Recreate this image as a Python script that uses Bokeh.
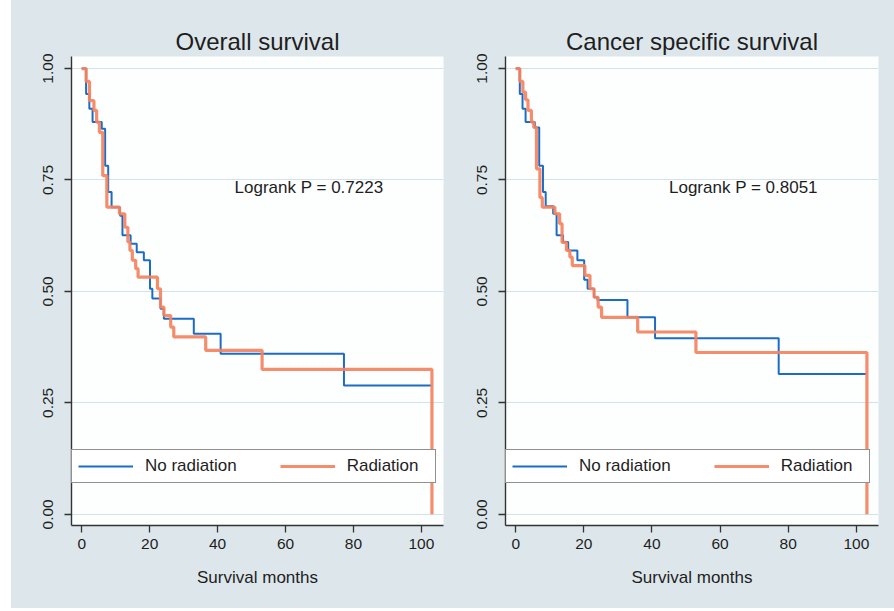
from bokeh.plotting import figure
from bokeh.layouts import row
from bokeh.models import Legend, LegendItem, Label, FixedTicker, Range1d, Spacer
from bokeh.embed import file_html
from bokeh.resources import INLINE

# ---------------- data ----------------
panel_titles = ["Overall survival", "Cancer specific survival"]
logrank_texts = ["Logrank P = 0.7223", "Logrank P = 0.8051"]
series_names = ["No radiation", "Radiation"]

# Overall survival – No radiation
os_norad_t = [0, 1.3, 2.25, 3.2, 5.9, 6.9, 7.8, 8.8, 11.3, 12.0, 14.4, 16.2, 18.3,
              20.1, 20.8, 23.2, 24.2, 33.0, 40.9, 77.2, 103.0]
os_norad_s = [1.0, 0.943, 0.910, 0.880, 0.865, 0.782, 0.723, 0.689, 0.670, 0.626, 0.607,
              0.588, 0.570, 0.506, 0.484, 0.461, 0.439, 0.405, 0.360, 0.289, 0.289]
# Overall survival – Radiation
os_rad_t = [0, 1.3, 2.3, 3.6, 4.4, 5.2, 6.2, 7.4, 11.1, 12.7, 13.6, 14.2, 14.9, 15.9,
            16.6, 22.3, 23.2, 24.2, 26.2, 27.1, 36.5, 53.1, 103.1]
os_rad_s = [1.0, 0.971, 0.928, 0.906, 0.880, 0.857, 0.760, 0.689, 0.674, 0.644, 0.611,
            0.592, 0.570, 0.551, 0.532, 0.506, 0.465, 0.446, 0.420, 0.398, 0.368, 0.325, 0.0]
# Cancer specific survival – No radiation
cs_norad_t = [0, 1.2, 2.0, 2.9, 5.6, 6.9, 8.0, 8.8, 11.0, 12.0, 13.9, 15.4, 18.1, 20.1,
              21.1, 23.0, 24.0, 32.8, 40.9, 77.2, 102.9]
cs_norad_s = [1.0, 0.943, 0.910, 0.880, 0.868, 0.782, 0.723, 0.691, 0.674, 0.626, 0.611,
              0.592, 0.570, 0.526, 0.506, 0.487, 0.481, 0.442, 0.395, 0.315, 0.315]
# Cancer specific survival – Radiation
cs_rad_t = [0, 1.2, 2.1, 2.9, 3.6, 4.6, 5.3, 6.1, 7.1, 7.8, 11.5, 12.9, 13.6, 14.9, 15.9,
            16.6, 20.3, 21.8, 23.0, 24.2, 25.2, 35.8, 52.9, 103.1]
cs_rad_s = [1.0, 0.971, 0.947, 0.930, 0.906, 0.880, 0.868, 0.775, 0.711, 0.689, 0.674,
            0.652, 0.610, 0.592, 0.577, 0.558, 0.536, 0.506, 0.487, 0.465, 0.442, 0.409,
            0.363, 0.0]

x_ticks = [0, 20, 40, 60, 80, 100]
y_ticks = [0.0, 0.25, 0.5, 0.75, 1.0]
y_tick_labels = ["0.00", "0.25", "0.50", "0.75", "1.00"]
x_label = "Survival months"
logrank_pos = (45.0, 0.733)

# ---------------- style ----------------
FONT = "Liberation Sans"
BG = "#dde7eb"
BLUE = "#1c6cc6"
ORANGE = "#f4835f"
DARK = "#1e1e1e"
H = 608


def make_panel(title, t1, s1, t2, s2, lr_text, width, left, right):
    p = figure(width=width, height=H, output_backend="svg", toolbar_location=None,
               x_range=Range1d(-3.0, 106.5), y_range=Range1d(-0.025, 1.027),
               min_border_left=left, min_border_right=right,
               min_border_top=56, min_border_bottom=83)
    p.title.text = title
    p.title.align = "center"
    p.title.text_font = FONT
    p.title.text_font_size = "24px"
    p.title.text_font_style = "normal"
    p.title.text_color = DARK
    p.title.standoff = 4

    p.background_fill_color = "#fdfefe"
    p.border_fill_color = BG
    p.outline_line_color = None

    p.xgrid.visible = False
    p.ygrid.grid_line_color = "#d3e2e9"
    p.ygrid.grid_line_width = 1

    for ax in (p.xaxis[0], p.yaxis[0]):
        ax.axis_line_color = "#333333"
        ax.axis_line_width = 1.4
        ax.major_tick_line_color = "#333333"
        ax.major_tick_line_width = 1.3
        ax.major_tick_out = 7
        ax.major_tick_in = 0
        ax.minor_tick_line_color = None
        ax.major_label_text_font = FONT
        ax.major_label_text_font_size = "15.5px"
        ax.major_label_text_color = DARK

    p.xaxis.ticker = FixedTicker(ticks=x_ticks)
    p.xaxis.major_label_standoff = 6
    p.xaxis.axis_label = x_label
    p.xaxis.axis_label_text_font = FONT
    p.xaxis.axis_label_text_font_size = "17px"
    p.xaxis.axis_label_text_font_style = "normal"
    p.xaxis.axis_label_text_color = DARK
    p.xaxis.axis_label_standoff = 16

    p.yaxis.ticker = FixedTicker(ticks=y_ticks)
    p.yaxis.major_label_overrides = {v: lab for v, lab in zip(y_ticks, y_tick_labels)}
    p.yaxis.major_label_orientation = "vertical"
    p.yaxis.major_label_standoff = 11

    r1 = p.step(x=t1, y=s1, mode="after", line_color=BLUE, line_width=2)
    r2 = p.step(x=t2, y=s2, mode="after", line_color=ORANGE, line_width=3.2,
                line_alpha=0.92)

    p.add_layout(Label(x=logrank_pos[0], y=logrank_pos[1], text=lr_text,
                       text_font=FONT, text_font_size="17px", text_color=DARK,
                       text_baseline="middle", text_align="left"))

    legend = Legend(items=[LegendItem(label=series_names[0], renderers=[r1]),
                           LegendItem(label=series_names[1], renderers=[r2])],
                    location=(0, 42), orientation="horizontal",
                    glyph_width=55, glyph_height=16, label_height=16,
                    label_width=82, label_standoff=12, spacing=43, padding=6,
                    margin=0,
                    label_text_font=FONT, label_text_font_size="17px",
                    label_text_color=DARK,
                    border_line_color="#222222", border_line_width=1.5,
                    background_fill_color="white", background_fill_alpha=1.0)
    p.add_layout(legend)
    return p


p1 = make_panel(panel_titles[0], os_norad_t, os_norad_s, os_rad_t, os_rad_s,
                logrank_texts[0], 440, 60, 8)
p2 = make_panel(panel_titles[1], cs_norad_t, cs_norad_s, cs_rad_t, cs_rad_s,
                logrank_texts[1], 443, 54, 16)

left_pad = Spacer(width=11, height=H, styles={"background-color": "white"})
layout = row(left_pad, p1, p2, spacing=0, styles={"background-color": BG})
open("out.html", "w").write(file_html(layout, INLINE))
